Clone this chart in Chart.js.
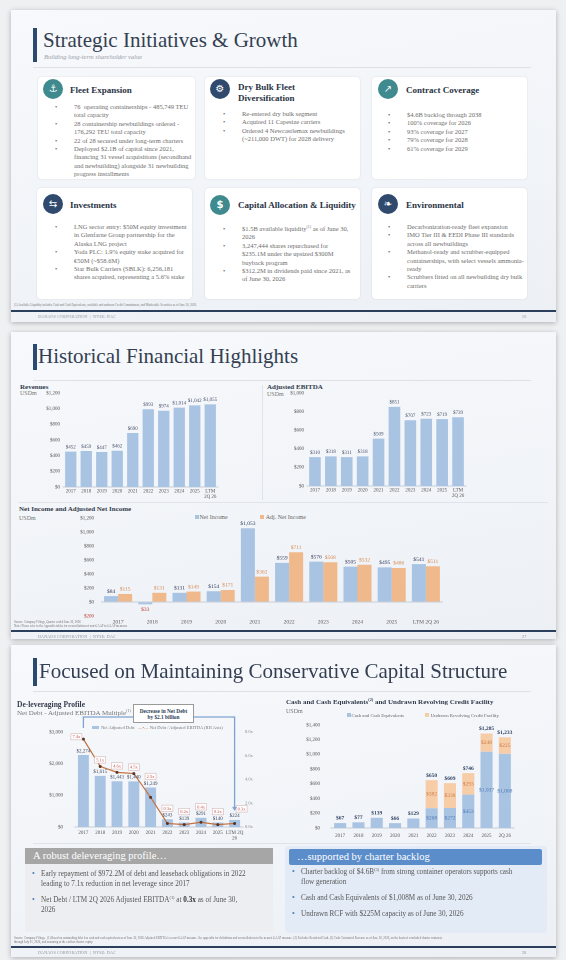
<!DOCTYPE html>
<html>
<head>
<meta charset="utf-8">
<script src="https://cdn.jsdelivr.net/npm/chart.js@4.4.1/dist/chart.umd.min.js"></script>
<style>
  * { box-sizing: border-box; }
  body { margin: 0; width: 566px; height: 960px; position: relative; overflow: hidden;
    background: #eff0f2; font-family: "Liberation Serif", "DejaVu Serif", serif; color: #333; }
  .t { position: absolute; white-space: nowrap; }
  .slide { position: absolute; left: 11px; width: 545px;
    background: linear-gradient(170deg, #f7f9fc 0%, #f1f4f8 60%, #eceff4 100%);
    box-shadow: 0 1px 5px rgba(0,0,0,.28); }
  .tbar { position: absolute; left: 33px; width: 3.5px; background: #2c4a70; }
  .title { position: absolute; font-size: 21px; line-height: 21px; color: #343f52; white-space: nowrap; }
  .sep { position: absolute; left: 33px; width: 498px; height: 1px; background: #dde1e7; }
  .card { position: absolute; background: #fff; border-radius: 4px; box-shadow: 0 0 2px rgba(0,0,0,.13); }
  .icon { position: absolute; width: 20px; height: 20px; border-radius: 50%; color: #fff;
    font: 10px/20px "DejaVu Sans"; text-align: center; }
  .teal { background: #3e8a8e; }
  .navy { background: #2f4a6d; }
  .ch { position: absolute; font-weight: bold; font-size: 9px; line-height: 11px; color: #2a3344; white-space: nowrap; }
  .bl { position: absolute; font-size: 6.5px; line-height: 8.4px; color: #6d6d6d; white-space: nowrap; }
  .bl > div { position: relative; padding-left: 19px; }
  .bl > div:before { content: "\2022"; position: absolute; left: 0; }
  sup { font-size: 60%; line-height: 0; vertical-align: super; }
  .fn { position: absolute; left: 14px; font-size: 3px; line-height: 4px; color: #777; white-space: nowrap; }
  .fline { position: absolute; left: 11px; width: 545px; height: 1.5px; background: #2b3e5c; }
  .foot { position: absolute; font-size: 4px; line-height: 4px; color: #8d929b; letter-spacing: .2px; white-space: nowrap; }
  .ctitle { position: absolute; font-weight: bold; font-size: 7.5px; line-height: 8px; color: #333c4c; white-space: nowrap; }
  .csub { position: absolute; font-size: 6px; line-height: 7px; color: #777; white-space: nowrap; }
  .leg { position: absolute; font-size: 5px; line-height: 6px; color: #666; white-space: nowrap; }
  .sw { display: inline-block; width: 3.5px; height: 3.5px; margin-right: 1px; vertical-align: 0.2px; }
  canvas { position: absolute; }
  .bx { position: absolute; }
  .bhead { position: absolute; color: #fff; font-size: 10.5px; line-height: 16px; padding-left: 8px; white-space: nowrap; }
  .bb { position: absolute; font-size: 7.2px; line-height: 10.3px; color: #575757; white-space: nowrap; }
  .bb > div { position: relative; padding-left: 9px; margin-bottom: 5.5px; }
  .bb > div:before { content: "\2022"; position: absolute; left: 0; color: #4f81bd; font-size: 8px; }
</style>
</head>
<body>

<!-- slide 1 -->
<div class="slide" style="top:10px;height:312px"></div>
<div class="tbar" style="top:28px;height:34px"></div>
<div class="title" style="left:43px;top:30px">Strategic Initiatives &amp; Growth</div>
<div class="t" style="left:44px;top:54px;font-size:6.5px;line-height:6.5px;font-style:italic;color:#9aa0aa">Building long-term shareholder value</div>
<div class="sep" style="top:67px"></div>

<div class="card" style="left:38px;top:77px;width:157px;height:102px"></div>
<div class="card" style="left:205px;top:77px;width:155px;height:102px"></div>
<div class="card" style="left:372px;top:77px;width:155px;height:102px"></div>
<div class="card" style="left:37px;top:188px;width:155px;height:111px"></div>
<div class="card" style="left:205px;top:188px;width:155px;height:111px"></div>
<div class="card" style="left:372px;top:188px;width:155px;height:111px"></div>

<div class="icon teal" style="left:43px;top:79px">&#9875;</div>
<div class="icon navy" style="left:210px;top:79px">&#9881;</div>
<div class="icon teal" style="left:378px;top:79px">&#8599;</div>
<div class="icon navy" style="left:43px;top:194px">&#8646;</div>
<div class="icon teal" style="left:210px;top:195px;font-weight:bold">$</div>
<div class="icon navy" style="left:378px;top:194px">&#10087;</div>

<div class="ch" style="left:70px;top:85px">Fleet Expansion</div>
<div class="ch" style="left:238px;top:82px">Dry Bulk Fleet<br>Diversification</div>
<div class="ch" style="left:406px;top:85px">Contract Coverage</div>
<div class="ch" style="left:70px;top:200px">Investments</div>
<div class="ch" style="left:238px;top:200px">Capital Allocation &amp; Liquidity</div>
<div class="ch" style="left:406px;top:200px">Environmental</div>

<div class="bl" style="left:55px;top:103px">
  <div>76&nbsp; operating containerships - 485,749 TEU<br>total capacity</div>
  <div>28 containership newbuildings ordered -<br>176,292 TEU total capacity</div>
  <div>22 of 28 secured under long-term charters</div>
  <div>Deployed $2.1B of capital since 2021,<br>financing 31 vessel acquisitions (secondhand<br>and newbuilding) alongside 31 newbuilding<br>progress installments</div>
</div>
<div class="bl" style="left:223px;top:110px">
  <div>Re-entered dry bulk segment</div>
  <div>Acquired 11 Capesize carriers</div>
  <div>Ordered 4 Newcastlemax newbuildings<br>(~211,000 DWT) for 2028 delivery</div>
</div>
<div class="bl" style="left:388px;top:111px">
  <div>$4.6B backlog through 2038</div>
  <div>100% coverage for 2026</div>
  <div>93% coverage for 2027</div>
  <div>79% coverage for 2028</div>
  <div>61% coverage for 2029</div>
</div>
<div class="bl" style="left:55px;top:223px">
  <div>LNG sector entry: $50M equity investment<br>in Glenfarne Group partnership for the<br>Alaska LNG project</div>
  <div>Yoda PLC: 1.9% equity stake acquired for<br>&euro;50M (~$58.6M)</div>
  <div>Star Bulk Carriers (SBLK): 6,256,181<br>shares acquired, representing a 5.6% stake</div>
</div>
<div class="bl" style="left:223px;top:225px">
  <div>$1.5B available liquidity<sup>(1)</sup> as of June 30,<br>2026</div>
  <div>3,247,444 shares repurchased for<br>$235.1M under the upsized $300M<br>buyback program</div>
  <div>$312.2M in dividends paid since 2021, as<br>of June 30, 2026</div>
</div>
<div class="bl" style="left:388px;top:223px">
  <div>Decarbonization-ready fleet expansion</div>
  <div>IMO Tier III &amp; EEDI Phase III standards<br>across all newbuildings</div>
  <div>Methanol-ready and scrubber-equipped<br>containerships, with select vessels ammonia-<br>ready</div>
  <div>Scrubbers fitted on all newbuilding dry bulk<br>carriers</div>
</div>
<div class="fn" style="top:303px">(1) Available Liquidity includes Cash and Cash Equivalents, available and undrawn Credit Commitment, and Marketable Securities as of June 30, 2026.</div>
<div class="fline" style="top:310px"></div>
<div class="foot" style="left:38px;top:315px">DANAOS CORPORATION&nbsp; |&nbsp; NYSE: DAC</div>
<div class="foot" style="left:522px;top:315px">26</div>

<!-- slide 2 -->
<div class="slide" style="top:332px;height:307px"></div>
<div class="tbar" style="top:344px;height:26px"></div>
<div class="title" style="left:38px;top:346px">Historical Financial Highlights</div>
<div class="sep" style="top:380px"></div>
<div class="t" style="left:262px;top:385px;width:1px;height:115px;background:#e0e4ea"></div>
<div class="t" style="left:18px;top:502px;width:530px;height:1px;background:#e0e4ea"></div>

<div class="ctitle" style="left:20px;top:383px;font-size:7px">Revenues</div>
<div class="csub" style="left:20px;top:390px">USDm</div>
<canvas id="revenueChart" width="247" height="115" style="left:15px;top:385px;width:247px;height:115px"></canvas>

<div class="ctitle" style="left:267px;top:383px;font-size:7px">Adjusted EBITDA</div>
<div class="csub" style="left:267px;top:391px">USDm</div>
<canvas id="ebitdaChart" width="294" height="115" style="left:262px;top:385px;width:294px;height:115px"></canvas>

<div class="ctitle" style="left:19px;top:505px;font-size:7px">Net Income and Adjusted Net Income</div>
<div class="csub" style="left:19px;top:515px">USDm</div>
<div class="leg" style="left:195px;top:514px;font-size:6px;line-height:7px"><span class="sw" style="background:#a9c3e3"></span>Net Income</div>
<div class="leg" style="left:260px;top:514px;font-size:6px;line-height:7px"><span class="sw" style="background:#f0b98c"></span> Adj. Net Income</div>
<canvas id="netIncomeChart" width="541" height="123" style="left:15px;top:505px;width:541px;height:123px"></canvas>

<div class="fn" style="top:620px">Source: Company Filings, Quarter ended June 30, 2026<br>Note: Please refer to the Appendix tables for reconciliations of non-GAAP to GAAP measures</div>
<div class="fline" style="top:630px"></div>
<div class="foot" style="left:38px;top:635px">DANAOS CORPORATION&nbsp; |&nbsp; NYSE: DAC</div>
<div class="foot" style="left:522px;top:635px">27</div>

<!-- slide 3 -->
<div class="slide" style="top:645px;height:312px"></div>
<div class="tbar" style="top:658px;height:28px"></div>
<div class="title" style="left:39px;top:661px">Focused on Maintaining Conservative Capital Structure</div>
<div class="sep" style="top:691px"></div>

<div class="ctitle" style="left:17px;top:701px">De-leveraging Profile</div>
<div class="csub" style="left:17px;top:710px;font-size:7px">Net Debt - Adjusted EBITDA Multiple<sup>(1)</sup></div>
<canvas id="debtChart" width="268" height="142" style="left:15px;top:700px;width:268px;height:142px"></canvas>
<div class="t" style="left:133px;top:704px;width:61px;height:19px;background:#fff;border:0.6px solid #9a9a9a;text-align:center;font-weight:bold;font-size:5.3px;line-height:6.6px;padding-top:2.5px;color:#2b3a55">Decrease in Net Debt<br>by $2.1 billion</div>
<div class="leg" style="left:92px;top:725px;font-size:4.5px;color:#777"><span class="sw" style="background:#a9c3e3;width:7px;height:2.5px"></span> Net Adjusted Debt &nbsp;&nbsp;<span style="color:#c4713f">&mdash;&bull;&mdash;</span> Net Debt / Adjusted EBITDA (RH Axis)</div>

<div class="ctitle" style="left:286px;top:698px;font-size:7px">Cash and Cash Equivalents<sup>(2)</sup> and Undrawn Revolving Credit Facility</div>
<div class="csub" style="left:286px;top:708px">USDm</div>
<div class="leg" style="left:347px;top:713px;font-size:4.8px"><span class="sw" style="background:#a9c3e3"></span>Cash and Cash Equivalents</div>
<div class="leg" style="left:425px;top:713px;font-size:4.8px"><span class="sw" style="background:#f7cda8"></span> Undrawn Revolving Credit Facility</div>
<canvas id="cashChart" width="273" height="142" style="left:283px;top:700px;width:273px;height:142px"></canvas>
<div class="t" style="left:33px;top:843px;width:498px;height:1px;background:#e0e4ea"></div>

<div class="bx" style="left:25px;top:864px;width:248px;height:68px;background:#eceef1"></div>
<div class="bhead" style="left:25px;top:848px;width:248px;height:16px;background:#a6a6a6">A robust deleveraging profile&hellip;</div>
<div class="bb" style="left:32px;top:869px">
  <div>Early repayment of $972.2M of debt and leaseback obligations in 2022<br>leading to 7.1x reduction in net leverage since 2017</div>
  <div>Net Debt / LTM 2Q 2026 Adjusted EBITDA<sup>(1)</sup> at <b style="color:#333">0.3x</b> as of June 30,<br>2026</div>
</div>
<div class="bx" style="left:285px;top:846px;width:262px;height:87px;background:#e3ebf6;border-radius:4px"></div>
<div class="bhead" style="left:289px;top:849px;width:253px;height:16px;background:#5b8dcb;border-radius:2px">&hellip;supported by charter backlog</div>
<div class="bb" style="left:292px;top:867px">
  <div>Charter backlog of $4.6B<sup>(3)</sup> from strong container operators supports cash<br>flow generation</div>
  <div>Cash and Cash Equivalents of $1,008M as of June 30, 2026</div>
  <div>Undrawn RCF with $225M capacity as of June 30, 2026</div>
</div>

<div class="fn" style="top:936px">Source: Company Filings.&nbsp; (1) Based on outstanding debt less cash and cash equivalents as of June 30, 2026 Adjusted EBITDA is a non-GAAP measure. See appendix for definitions and reconciliations to the nearest GAAP measure. (2) Excludes Restricted Cash. (3) Cash Contracted Revenue as of June 30, 2026, on the basis of concluded charter contracts<br>through July 01, 2026, and assuming at the earliest charter expiry.</div>
<div class="fline" style="top:946px"></div>
<div class="foot" style="left:38px;top:951px">DANAOS CORPORATION&nbsp; |&nbsp; NYSE: DAC</div>
<div class="foot" style="left:522px;top:951px">28</div>

<script>
const years = ["2017", "2018", "2019", "2020", "2021", "2022", "2023", "2024", "2025"];

const revenueLabels = years.concat([["LTM", "2Q 26"]]);
const revenues = [452, 459, 447, 462, 690, 993, 974, 1014, 1042, 1055];
const ebitda = [310, 318, 311, 318, 509, 851, 707, 723, 719, 739];

const netIncomeLabels = years.concat(["LTM 2Q 26"]);
const netIncome = [84, -33, 131, 154, 1053, 559, 576, 505, 495, 541];
const adjNetIncome = [115, 131, 149, 171, 362, 711, 568, 532, 486, 511];

const debtLabels = years.concat([["LTM 2Q", "26"]]);
const netDebt = [2274, 1615, 1443, 1440, 1249, 243, 139, 291, 140, 224];
const leverage = [7.4, 5.1, 4.6, 4.5, 2.5, 0.3, 0.2, 0.4, 0.2, 0.3];

const cashLabels = years.concat(["2Q 26"]);
const cash = [67, 77, 139, 66, 129, 268, 272, 453, 1037, 1008];
const undrawnRcf = [0, 0, 0, 0, 0, 382, 338, 293, 248, 225];
const liquidityTotal = [67, 77, 139, 66, 129, 650, 609, 746, 1285, 1233];

const BLUE = "#a9c3e3";
const ORANGE = "#f0b98c";
const PEACH = "#f7cda8";
const FONT = "'Liberation Serif', 'DejaVu Serif', serif";

Chart.defaults.font.family = FONT;
Chart.defaults.color = "#555";
Chart.defaults.animation = false;
Chart.defaults.plugins.legend.display = false;
Chart.defaults.plugins.tooltip.enabled = false;

function money(v) {
  return "$" + Math.abs(v).toLocaleString("en-US");
}
function fixWidth(w) {
  return function (scale) { scale.width = w; };
}
function fixHeight(h) {
  return function (scale) { scale.height = h; };
}
function text(ctx, s, x, y, font, color, base) {
  ctx.font = font;
  ctx.fillStyle = color;
  ctx.textAlign = "center";
  ctx.textBaseline = base || "bottom";
  ctx.fillText(s, x, y);
}
function labelPlugin(id, draw) {
  return {
    id: id,
    afterDatasetsDraw: function (chart) {
      chart.ctx.save();
      draw(chart, chart.ctx);
      chart.ctx.restore();
    },
  };
}

// revenues / adjusted EBITDA
function simpleBar(id, labels, values, max, yWidth, padding, xHeight) {
  return new Chart(document.getElementById(id), {
    type: "bar",
    data: {
      labels: labels,
      datasets: [{ data: values, backgroundColor: BLUE, barPercentage: 0.73, categoryPercentage: 1 }],
    },
    options: {
      responsive: false,
      devicePixelRatio: 2,
      layout: { padding: padding },
      scales: {
        x: {
          grid: { display: false, drawTicks: false },
          border: { color: "#c9ced6" },
          ticks: { font: { size: 5, lineHeight: 1.1 }, padding: 1.5, maxRotation: 0, autoSkip: false },
          afterFit: fixHeight(xHeight),
        },
        y: {
          min: 0,
          max: max,
          ticks: { stepSize: 200, font: { size: 5 }, padding: 3, callback: money },
          grid: { display: false, drawTicks: false },
          border: { display: false },
          afterFit: fixWidth(yWidth),
        },
      },
    },
    plugins: [
      labelPlugin(id + "Labels", function (chart, ctx) {
        chart.getDatasetMeta(0).data.forEach(function (bar, i) {
          text(ctx, money(values[i]), bar.x, bar.y - 2, "5px " + FONT, "#46506a");
        });
      }),
    ],
  });
}

simpleBar("revenueChart", revenueLabels, revenues, 1200, 48, { top: 8, right: 44 }, 13);
simpleBar("ebitdaChart", revenueLabels, ebitda, 1000, 45, { top: 8, right: 90 }, 14);

// net income
new Chart(document.getElementById("netIncomeChart"), {
  type: "bar",
  data: {
    labels: netIncomeLabels,
    datasets: [
      { label: "Net Income", data: netIncome, backgroundColor: BLUE, categoryPercentage: 0.82, barPercentage: 1 },
      { label: "Adj. Net Income", data: adjNetIncome, backgroundColor: ORANGE, categoryPercentage: 0.82, barPercentage: 1 },
    ],
  },
  options: {
    responsive: false,
    devicePixelRatio: 2,
    layout: { padding: { top: 13, right: 113 } },
    scales: {
      x: {
        grid: { display: false, drawTicks: false },
        border: { display: false },
        ticks: { font: { size: 5.5 }, padding: 3, maxRotation: 0, autoSkip: false },
        afterFit: fixHeight(12),
      },
      y: {
        min: -200,
        max: 1200,
        ticks: {
          stepSize: 200,
          font: { size: 5 },
          padding: 7,
          callback: money,
          color: function (c) { return c.tick && c.tick.value < 0 ? "#c0392b" : "#555"; },
        },
        grid: {
          drawTicks: false,
          color: function (c) { return c.tick && c.tick.value === 0 ? "#c9ced6" : "rgba(0,0,0,0)"; },
        },
        border: { display: false },
        afterFit: fixWidth(86),
      },
    },
  },
  plugins: [
    labelPlugin("netIncomeLabels", function (chart, ctx) {
      chart.getDatasetMeta(0).data.forEach(function (bar, i) {
        if (netIncome[i] < 0) {
          text(ctx, money(netIncome[i]), bar.x, bar.y + 2.5, "5.5px " + FONT, "#c0392b", "top");
        } else {
          text(ctx, money(netIncome[i]), bar.x, bar.y - 2, "5.5px " + FONT, "#2f3c58");
        }
      });
      chart.getDatasetMeta(1).data.forEach(function (bar, i) {
        text(ctx, money(adjNetIncome[i]), bar.x, bar.y - 2, "5.5px " + FONT, "#d9884f");
      });
    }),
  ],
});

// de-leveraging profile
new Chart(document.getElementById("debtChart"), {
  type: "bar",
  data: {
    labels: debtLabels,
    datasets: [
      {
        type: "line",
        data: leverage,
        yAxisID: "y1",
        borderColor: "#c4713f",
        borderWidth: 1.2,
        pointRadius: 1.5,
        pointBackgroundColor: "#5a3525",
        pointBorderWidth: 0,
        order: 0,
      },
      { type: "bar", data: netDebt, yAxisID: "y", backgroundColor: BLUE, barPercentage: 0.65, categoryPercentage: 1, order: 1 },
    ],
  },
  options: {
    responsive: false,
    devicePixelRatio: 2,
    layout: { padding: { top: 32, right: 20 } },
    scales: {
      x: {
        grid: { display: false, drawTicks: false },
        border: { color: "#c9ced6" },
        ticks: { font: { size: 5, lineHeight: 1.1 }, padding: 3, maxRotation: 0, autoSkip: false },
        afterFit: fixHeight(14),
      },
      y: {
        position: "left",
        min: 0,
        max: 3000,
        ticks: { stepSize: 1000, font: { size: 5 }, padding: 12, callback: money },
        grid: { display: false, drawTicks: false },
        border: { display: false },
        afterFit: fixWidth(60),
      },
      y1: {
        position: "right",
        min: 0,
        max: 8,
        ticks: { stepSize: 2, font: { size: 4.5 }, color: "#888", padding: 2, callback: function (v) { return v.toFixed(1) + "x"; } },
        grid: { display: false, drawTicks: false },
        border: { display: false },
        afterFit: fixWidth(20),
      },
    },
  },
  plugins: [
    labelPlugin("debtLabels", function (chart, ctx) {
      const points = chart.getDatasetMeta(0).data;
      const bars = chart.getDatasetMeta(1).data;
      bars.forEach(function (bar, i) {
        text(ctx, money(netDebt[i]), bar.x, bar.y - 1.5, "5px " + FONT, "#3b4660");
      });
      points.forEach(function (pt, i) {
        let x = pt.x;
        let y = Math.min(pt.y - 6.5, bars[i].y - 11);
        if (i === 0) { x -= 7; y += 4; }
        if (i === points.length - 1) { x += 7; }
        ctx.fillStyle = "#fff";
        ctx.strokeStyle = "#d8b4b4";
        ctx.lineWidth = 0.6;
        ctx.fillRect(x - 5.5, y - 3.2, 11, 6.4);
        ctx.strokeRect(x - 5.5, y - 3.2, 11, 6.4);
        text(ctx, leverage[i].toFixed(1) + "x", x, y + 0.3, "4.5px " + FONT, "#c0504d", "middle");
      });
    }),
    {
      id: "debtArrow",
      afterDraw: function (chart) {
        const ctx = chart.ctx;
        const bars = chart.getDatasetMeta(1).data;
        const x0 = bars[0].x;
        const x1 = bars[bars.length - 1].x;
        const yTop = 17;
        const yEnd = bars[bars.length - 1].y - 9;
        ctx.save();
        ctx.strokeStyle = "#7fa3d1";
        ctx.fillStyle = "#7fa3d1";
        ctx.lineWidth = 1.3;
        ctx.beginPath();
        ctx.moveTo(x0, 28);
        ctx.lineTo(x0, yTop);
        ctx.lineTo(x1, yTop);
        ctx.lineTo(x1, yEnd - 3);
        ctx.stroke();
        ctx.beginPath();
        ctx.moveTo(x1 - 2.5, yEnd - 4);
        ctx.lineTo(x1 + 2.5, yEnd - 4);
        ctx.lineTo(x1, yEnd);
        ctx.closePath();
        ctx.fill();
        ctx.restore();
      },
    },
  ],
});

// cash and undrawn RCF
new Chart(document.getElementById("cashChart"), {
  type: "bar",
  data: {
    labels: cashLabels,
    datasets: [
      { data: cash, backgroundColor: BLUE, barPercentage: 0.66, categoryPercentage: 1 },
      { data: undrawnRcf, backgroundColor: PEACH, barPercentage: 0.66, categoryPercentage: 1 },
    ],
  },
  options: {
    responsive: false,
    devicePixelRatio: 2,
    layout: { padding: { top: 25, right: 42 } },
    scales: {
      x: {
        stacked: true,
        grid: { display: false, drawTicks: false },
        border: { color: "#c9ced6" },
        ticks: { font: { size: 5 }, padding: 4.5, maxRotation: 0, autoSkip: false },
        afterFit: fixHeight(14),
      },
      y: {
        stacked: true,
        min: 0,
        max: 1400,
        ticks: { stepSize: 200, font: { size: 5 }, padding: 11, callback: money },
        grid: { display: false, drawTicks: false },
        border: { display: false },
        afterFit: fixWidth(48),
      },
    },
  },
  plugins: [
    labelPlugin("cashLabels", function (chart, ctx) {
      const c = chart.getDatasetMeta(0).data;
      const u = chart.getDatasetMeta(1).data;
      c.forEach(function (bar, i) {
        const top = undrawnRcf[i] > 0 ? u[i].y : bar.y;
        text(ctx, money(liquidityTotal[i]), bar.x, top - 2, "bold 5.5px " + FONT, "#2d3f62");
        if (undrawnRcf[i] > 0) {
          text(ctx, money(cash[i]), bar.x, (bar.y + bar.base) / 2, "5.5px " + FONT, "#4b79b5", "middle");
          text(ctx, money(undrawnRcf[i]), bar.x, (u[i].y + u[i].base) / 2, "5.5px " + FONT, "#c97b45", "middle");
        }
      });
    }),
  ],
});
</script>
</body>
</html>
